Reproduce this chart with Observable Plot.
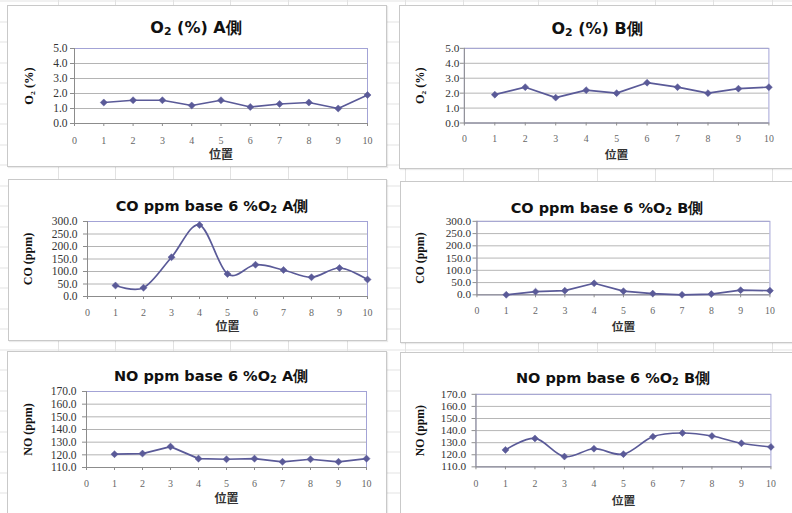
<!DOCTYPE html>
<html>
<head>
<meta charset="utf-8">
<script src="https://cdn.jsdelivr.net/npm/d3@7"></script>
<script src="https://cdn.jsdelivr.net/npm/@observablehq/plot@0.6"></script>
<style>
html,body{margin:0;padding:0;overflow:hidden;background:#fff;}
#page{position:relative;width:792px;height:513px;overflow:hidden;background-color:#fff;
  background-image:repeating-linear-gradient(to bottom, transparent 0px, transparent 19.5px, #e2e2e2 19.5px, #e2e2e2 20.5px);
  background-position:0 1.5px;}
.col{position:absolute;top:0;height:513px;width:1px;background:#e2e2e2;}
.panel{position:absolute;background:#fff;border:1px solid #c9c9c9;box-sizing:border-box;box-shadow:1px 1px 1px rgba(0,0,0,0.08);}
.title{position:absolute;font-family:"DejaVu Sans",Verdana,sans-serif;font-weight:bold;color:#111;white-space:nowrap;transform:translate(-50%,-50%);line-height:1;}
.title sub{font-size:0.68em;vertical-align:-0.25em;}
.chart{position:absolute;}
.chart svg{overflow:visible;}
</style>
</head>
<body>
<div id="page"></div>
<script>
// ---- data ----
const positions = [1, 2, 3, 4, 5, 6, 7, 8, 9, 10];
const xTicks = [0, 1, 2, 3, 4, 5, 6, 7, 8, 9, 10];
const xTitle = "位置";

const o2A = [1.4, 1.55, 1.55, 1.2, 1.55, 1.1, 1.3, 1.4, 1.0, 1.9];
const o2B = [1.9, 2.4, 1.7, 2.2, 2.0, 2.7, 2.4, 2.0, 2.3, 2.4];
const coA = [44, 35, 157, 286, 90, 127, 106, 77, 114, 68];
const coB = [0, 13, 17, 47, 15, 5, 0, 3, 19, 17];
const noA = [120.5, 121, 126.5, 117, 116.5, 117, 114.5, 116.5, 114.5, 117];
const noB = [124, 133.5, 118.5, 125, 120.5, 135, 138, 135.5, 129.5, 126.5];

const o2Ticks = [0, 1, 2, 3, 4, 5];
const coTicks = [0, 50, 100, 150, 200, 250, 300];
const noTicks = [110, 120, 130, 140, 150, 160, 170];

const titleParts = [
  ["O", "2", " (%) A側"],
  ["O", "2", " (%) B側"],
  ["CO ppm base 6 %O", "2", " A側"],
  ["CO ppm base 6 %O", "2", " B側"],
  ["NO ppm base 6 %O", "2", " A側"],
  ["NO ppm base 6 %O", "2", " B側"]
];
const yTitles = ["O₂ (%)", "O₂ (%)", "CO (ppm)", "CO (ppm)", "NO (ppm)", "NO (ppm)"];

// ---- styling / layout ----
const lineColor = "#5a5a98";
const gridColor = "#b4b4b4";
const frameColor = "#a3a3d6";
const axisColor = "#8c8c8c";
const PAGE_H = 513;

const page = document.getElementById("page");
[58, 115, 173, 230, 288, 347, 405, 463, 538, 597, 655, 713, 772].forEach(x => {
  const c = document.createElement("div");
  c.className = "col"; c.style.left = x + "px";
  page.appendChild(c);
});

const layouts = [
  {box:{x:7,y:5,w:380,h:162}, title:{x:196,y:29,fs:16}, plot:{l:74,r:367,t:48,b:123}, xl:140, xt:155, yt:28, yr:67, curve:"linear", ytf:12.5},
  {box:{x:399,y:5,w:400,h:164}, title:{x:597,y:30,fs:16}, plot:{l:465,r:775,t:48,b:124}, xl:140, xt:157, yt:420, yr:461, curve:"linear", ytf:12.5},
  {box:{x:8,y:179,w:379,h:162}, title:{x:212,y:207,fs:14.5}, plot:{l:87,r:367,t:221,b:296}, xl:312, xt:327, yt:28, yr:77, curve:"smooth", ytf:12},
  {box:{x:400,y:181,w:400,h:162}, title:{x:607,y:209,fs:14.5}, plot:{l:478,r:777,t:221,b:296}, xl:312, xt:329, yt:420, yr:472, curve:"linear", ytf:12},
  {box:{x:7,y:351,w:380,h:170}, title:{x:211,y:377,fs:14.5}, plot:{l:86,r:366,t:391,b:467}, xl:483, xt:499, yt:28, yr:76, curve:"linear", ytf:12},
  {box:{x:400,y:352,w:400,h:170}, title:{x:613,y:379,fs:14.5}, plot:{l:477,r:778,t:394,b:468}, xl:485, xt:503, yt:420, yr:467, curve:"smooth", ytf:12}
];
const series = [o2A, o2B, coA, coB, noA, noB];
const tickSets = [o2Ticks, o2Ticks, coTicks, coTicks, noTicks, noTicks];

layouts.forEach((L, k) => {
  const p = document.createElement("div");
  p.className = "panel";
  Object.assign(p.style, {left: L.box.x + "px", top: L.box.y + "px", width: L.box.w + "px", height: L.box.h + "px"});
  page.appendChild(p);

  const t = document.createElement("div");
  t.className = "title";
  t.style.left = L.title.x + "px"; t.style.top = L.title.y + "px"; t.style.fontSize = L.title.fs + "px";
  const [a, s, b] = titleParts[k];
  t.appendChild(document.createTextNode(a));
  const sub = document.createElement("sub"); sub.textContent = s; t.appendChild(sub);
  t.appendChild(document.createTextNode(b));
  page.appendChild(t);

  const ticks = tickSets[k];
  const data = positions.map((pos, i) => ({pos, v: series[k][i]}));
  const svgTop = L.plot.t - 8;
  const svgBottom = Math.min(L.box.y + L.box.h, PAGE_H);
  const width = L.box.w;
  const mL = L.plot.l - L.box.x, mR = L.box.x + L.box.w - L.plot.r;
  const mT = L.plot.t - svgTop, mB = svgBottom - L.plot.b;
  const yPad = Math.max(1, (L.plot.l - L.yr) - 4);
  const xPad = (L.xl - L.plot.b) - 3 - 3.6;
  const curve = L.curve === "smooth" ? d3.curveCatmullRom.alpha(0) : "linear";

  const chart = Plot.plot({
    width, height: svgBottom - svgTop,
    marginLeft: mL, marginRight: mR, marginTop: mT, marginBottom: mB,
    x: {domain: [0, 10]},
    y: {domain: [ticks[0], ticks[ticks.length - 1]]},
    style: {background: "transparent", overflow: "visible"},
    marks: [
      Plot.gridY(ticks, {stroke: gridColor, strokeOpacity: 1}),
      Plot.frame({stroke: frameColor}),
      Plot.ruleX([0], {stroke: axisColor}),
      Plot.ruleY([ticks[0]], {stroke: axisColor}),
      Plot.axisY(ticks, {tickSize: 4, tickPadding: yPad, tickFormat: d3.format(".1f"), stroke: axisColor, fill: "#333",
        fontFamily: "Liberation Serif, serif", fontSize: 11.5, label: null}),
      Plot.axisX(xTicks, {tickSize: 3, tickPadding: xPad, tickFormat: d3.format("d"), stroke: axisColor, fill: "#666",
        fontFamily: "Liberation Serif, serif", fontSize: 10, label: null}),
      Plot.text([yTitles[k]], {text: d => d, frameAnchor: "left", dx: L.yt - L.plot.l, rotate: -90, textAnchor: "middle",
        lineAnchor: "middle", fontFamily: "Liberation Serif, serif", fontWeight: "bold", fontSize: L.ytf, fill: "#111"}),
      Plot.text([xTitle], {text: d => d, frameAnchor: "bottom", dy: L.xt - L.plot.b, lineAnchor: "middle",
        fontFamily: "Noto Sans CJK JP, sans-serif", fontWeight: "bold", fontSize: 12, fill: "#333"}),
      Plot.line(data, {x: "pos", y: "v", stroke: lineColor, strokeWidth: 1.7, curve}),
      Plot.dot(data, {x: "pos", y: "v", symbol: "diamond2", fill: lineColor, stroke: lineColor, strokeWidth: 0.5, r: 3.2})
    ]
  });
  const wrap = document.createElement("div");
  wrap.className = "chart";
  wrap.style.left = L.box.x + "px"; wrap.style.top = svgTop + "px";
  wrap.appendChild(chart);
  page.appendChild(wrap);
});
</script>
</body>
</html>
